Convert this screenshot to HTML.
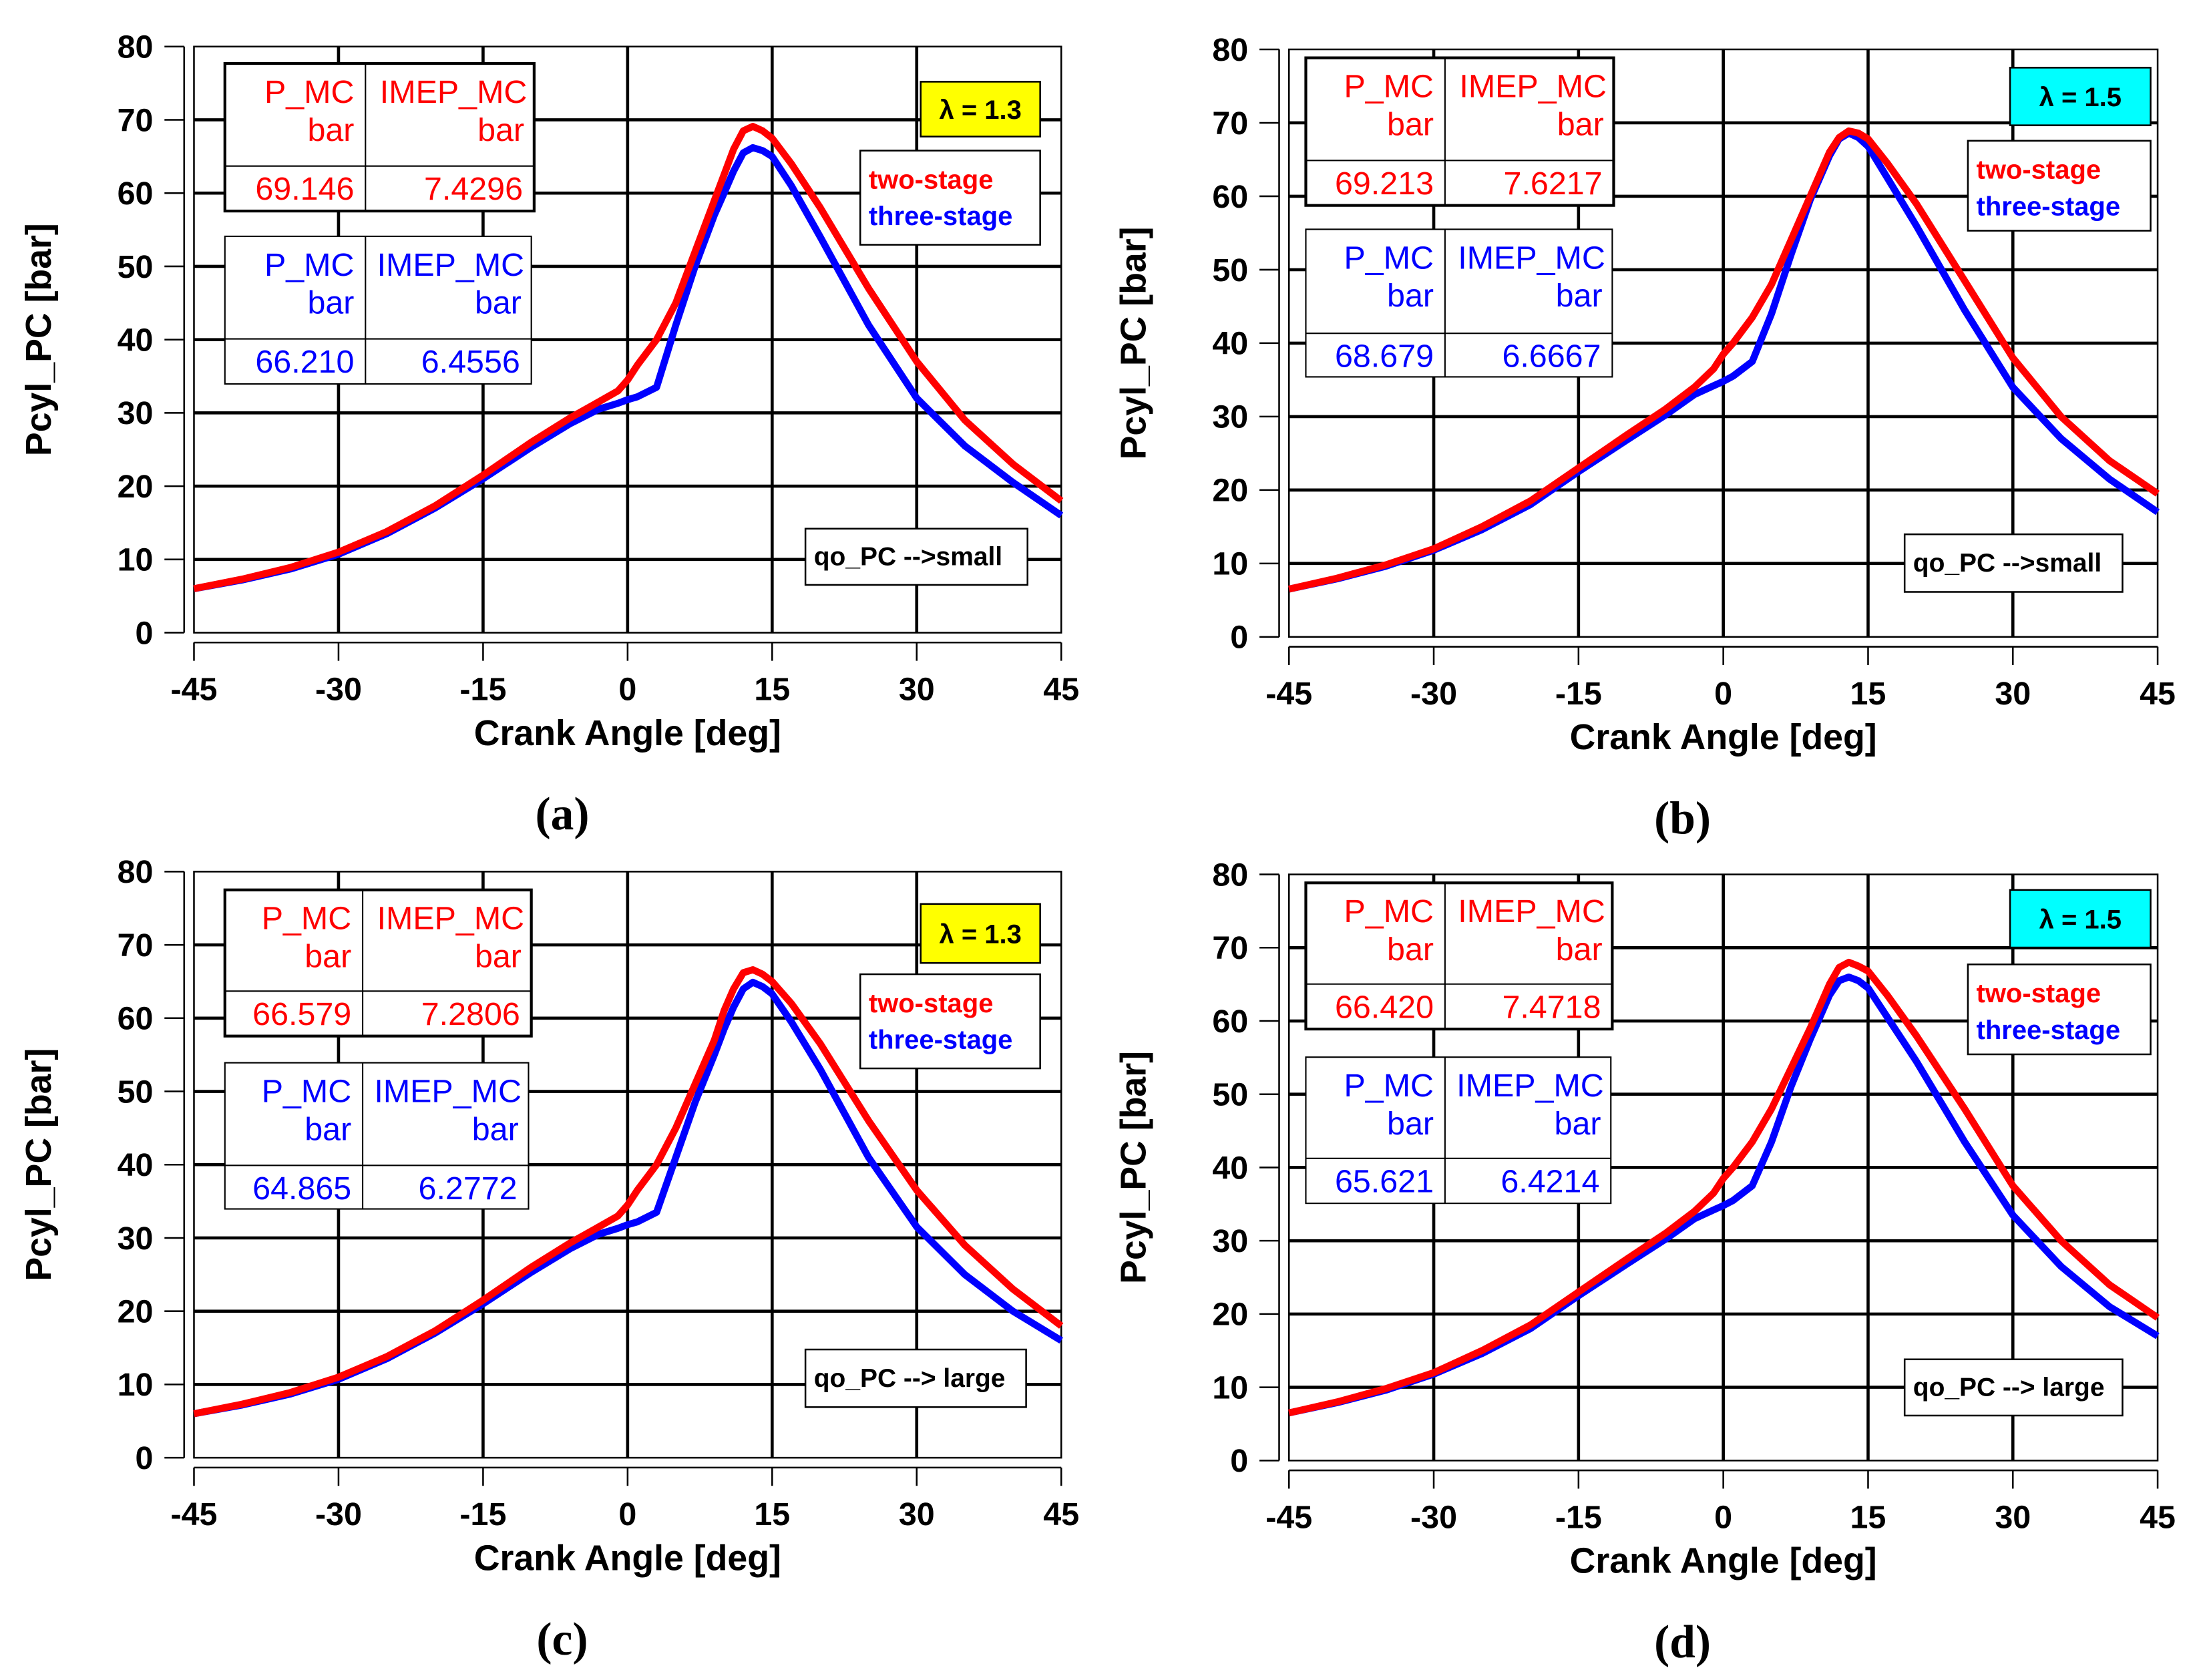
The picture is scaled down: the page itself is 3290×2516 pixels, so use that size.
<!DOCTYPE html>
<html><head><meta charset="utf-8"><style>
html,body{margin:0;padding:0;background:#fff;}
svg{display:block;font-family:"Liberation Sans",sans-serif;}
</style></head><body>
<svg id="fig" width="3290" height="2516" viewBox="0 0 1563 1195" xmlns="http://www.w3.org/2000/svg"></svg>
<script>
// ---- data ----
const anglesA = [-45,-40,-35,-30,-25,-20,-15,-10,-6,-3,-1,0,1,3,5,7,9,10,11,12,13,14,15,17,20,25,30,35,40,45];
const twoA   = [6,7.3,8.9,11,13.8,17.3,21.5,26,29.3,31.5,33,34.5,36.5,40,45,52,59,62.5,66,68.5,69.1,68.5,67.5,64,58,47,37,29,23,18];
const threeA = [6,7.2,8.7,10.7,13.5,17,21,25.3,28.5,30.5,31.3,31.8,32.2,33.5,42,50,57,60,63,65.5,66.2,65.8,65,61,54,42,32,25.5,20.5,16];
const twoB   = [6.5,8,9.8,12,15,18.5,23,27.5,31,34,36.5,38.5,40,43.5,48,54,60,63,66,68,68.9,68.6,67.8,64.5,59,48.5,38,30,24,19.5];
const threeB = [6.5,7.9,9.6,11.8,14.6,18,22.5,26.8,30.2,33,34.2,34.8,35.5,37.5,44,52,59.5,62.5,65.5,67.8,68.6,68,66.8,62.5,56,44.5,34,27,21.5,17];
const twoC   = [6,7.3,8.9,11,13.8,17.3,21.5,26,29.3,31.5,33,34.5,36.5,40,45,51,57,61,64,66.2,66.6,66,65,62,56.5,46,36.5,29,23,18];
const threeC = [6,7.2,8.7,10.7,13.5,17,21,25.3,28.5,30.5,31.3,31.8,32.2,33.5,41,48.5,55,58.5,61.5,64,64.9,64.3,63.3,59.5,53,41,31.5,25,20,16];
const twoD   = [6.5,8,9.8,12,15,18.5,23,27.5,31,34,36.5,38.5,40,43.5,48,53.5,59,62,65,67.3,68,67.5,66.8,63.5,58,48,37.5,30,24,19.5];
const threeD = [6.5,7.9,9.6,11.8,14.6,18,22.5,26.8,30.2,33,34.2,34.8,35.5,37.5,43.5,51,57.5,60.5,63.5,65.5,66,65.5,64.5,60.5,54.5,43.5,33.5,26.5,21,17];
const xTicks = [-45,-30,-15,0,15,30,45];
const yTicks = [0,10,20,30,40,50,60,70,80];
const tableVals = [["69.146","7.4296","66.210","6.4556"],["69.213","7.6217","68.679","6.6667"],["66.579","7.2806","64.865","6.2772"],["66.420","7.4718","65.621","6.4214"]];
const lambdas = ["1.3","1.5","1.3","1.5"];
const qoLabels = ["qo_PC -->small","qo_PC -->small","qo_PC --> large","qo_PC --> large"];
const captions = ["(a)","(b)","(c)","(d)"];
const series = [[twoA,threeA],[twoB,threeB],[twoC,threeC],[twoD,threeD]];

const NS="http://www.w3.org/2000/svg";
const svg=document.getElementById('fig');
function el(tag,attrs,parent,text){const e=document.createElementNS(NS,tag);for(const k in attrs)e.setAttribute(k,attrs[k]);if(text!==undefined)e.textContent=text;(parent||svg).appendChild(e);return e;}

const panels=[
 {x0:138,x1:755,y0:450,y80:33,cap:400, red:[160,45,380,150,118,260], blue:[160,168,378,273,241], lam:[655,58,740,97,'#ffff00'], leg:[612,107,740,174], qo:[573,376,731,416]},
 {x0:917,x1:1535,y0:453,y80:35,cap:1197, red:[929,41,1148,146,114,1028], blue:[929,163,1147,268,237], lam:[1430,48,1530,89,'#00ffff'], leg:[1400,100,1530,164], qo:[1355,380,1510,421]},
 {x0:138,x1:755,y0:1037,y80:620,cap:400, red:[160,633,378,737,705,258], blue:[160,756,376,860,829], lam:[655,643,740,685,'#ffff00'], leg:[612,693,740,760], qo:[573,960,730,1001]},
 {x0:917,x1:1535,y0:1039,y80:622,cap:1197, red:[929,628,1147,732,700,1028], blue:[929,752,1146,856,824], lam:[1430,633,1530,674,'#00ffff'], leg:[1400,686,1530,750], qo:[1355,967,1510,1007]}
];

panels.forEach((p,i)=>{
  const g=el('g',{});
  
  
  const sx=v=>p.x0+(v+45)/90*(p.x1-p.x0);
  const sy=v=>p.y0-v/80*(p.y0-p.y80);
  yTicks.forEach(t=>{ if(t>0&&t<80){const l=el('line',{x1:p.x0,x2:p.x1,y1:sy(t),y2:sy(t),stroke:'#000','stroke-width':2.2},g);}});
  xTicks.forEach(t=>{ if(t>-45&&t<45){const l=el('line',{x1:sx(t),x2:sx(t),y1:p.y80,y2:p.y0,stroke:'#000','stroke-width':2.2},g);}});
  const fr=el('rect',{x:p.x0,y:p.y80,width:p.x1-p.x0,height:p.y0-p.y80,fill:'none',stroke:'#000','stroke-width':1.2},g);
  
  const ya=el('line',{x1:p.x0-7,x2:p.x0-7,y1:p.y80,y2:p.y0,stroke:'#000','stroke-width':1.2},g);
  
  yTicks.forEach(t=>{
    el('line',{x1:p.x0-21,x2:p.x0-7,y1:sy(t),y2:sy(t),stroke:'#000','stroke-width':1.2},g);
    const tx=el('text',{x:p.x0-29,y:sy(t)+8,'text-anchor':'end','font-size':23,'font-weight':'bold'},g,String(t));
    
  });
  const xa=el('line',{x1:p.x0,x2:p.x1,y1:p.y0+7,y2:p.y0+7,stroke:'#000','stroke-width':1.2},g);
  
  xTicks.forEach(t=>{
    el('line',{x1:sx(t),x2:sx(t),y1:p.y0+7,y2:p.y0+20,stroke:'#000','stroke-width':1.2},g);
    const tx=el('text',{x:sx(t),y:p.y0+48,'text-anchor':'middle','font-size':23,'font-weight':'bold'},g,String(t));
    
  });
  const xt=el('text',{x:(p.x0+p.x1)/2,y:p.y0+80,'text-anchor':'middle','font-size':25.5,'font-weight':'bold'},g,'Crank Angle [deg]');
  
  const ytx=p.x0-102, yty=(p.y0+p.y80)/2;
  const yt=el('text',{x:ytx,y:yty,'text-anchor':'middle','font-size':25.5,'font-weight':'bold',transform:`rotate(-90 ${ytx} ${yty})`},g,'Pcyl_PC [bar]');
  
  const cap=el('text',{x:p.cap,y:p.y0+140,'text-anchor':'middle','font-size':33,'font-weight':'bold','font-family':'Liberation Serif, serif'},g,captions[i]);
  
  const cols=['#ff0000','#0000ff'];
  [1,0].forEach(s=>{
    const pts=anglesA.map((a,k)=>sx(a).toFixed(1)+','+sy(series[i][s][k]).toFixed(1)).join(' ');
    const pl=el('polyline',{points:pts,fill:'none',stroke:cols[s],'stroke-width':5,'stroke-linejoin':'round'},g);
    
    
  });
  function table(b,color,vals,name,thick){
    const tg=el('g',{},g);
    const [x1,y1,x2,y2,sp]=b; const cx=p.red[5];
    el('rect',{x:x1,y:y1,width:x2-x1,height:y2-y1,fill:'#fff',stroke:'#000','stroke-width':thick},tg);
    el('line',{x1:x1,x2:x2,y1:sp,y2:sp,stroke:'#000','stroke-width':1},tg);
    el('line',{x1:cx,x2:cx,y1:y1,y2:y2,stroke:'#000','stroke-width':1},tg);
    const fs=23;
    el('text',{x:cx-8,y:y1+28,'text-anchor':'end','font-size':fs,fill:color},tg,'P_MC');
    el('text',{x:cx-8,y:y1+55,'text-anchor':'end','font-size':fs,fill:color},tg,'bar');
    el('text',{x:x2-5,y:y1+28,'text-anchor':'end','font-size':fs,fill:color},tg,'IMEP_MC');
    el('text',{x:x2-7,y:y1+55,'text-anchor':'end','font-size':fs,fill:color},tg,'bar');
    el('text',{x:cx-8,y:sp+24,'text-anchor':'end','font-size':fs,fill:color},tg,vals[0]);
    el('text',{x:x2-8,y:sp+24,'text-anchor':'end','font-size':fs,fill:color},tg,vals[1]);
  }
  table(p.red,'#ff0000',[tableVals[i][0],tableVals[i][1]],'two-stage-table',2);
  table(p.blue,'#0000ff',[tableVals[i][2],tableVals[i][3]],'three-stage-table',1);
  const lb=el('g',{},g);
  el('rect',{x:p.lam[0],y:p.lam[1],width:p.lam[2]-p.lam[0],height:p.lam[3]-p.lam[1],fill:p.lam[4],stroke:'#000','stroke-width':1.2},lb);
  el('text',{x:(p.lam[0]+p.lam[2])/2,y:(p.lam[1]+p.lam[3])/2+7,'text-anchor':'middle','font-size':19,'font-weight':'bold'},lb,'λ = '+lambdas[i]);
  const lg=el('g',{},g);
  el('rect',{x:p.leg[0],y:p.leg[1],width:p.leg[2]-p.leg[0],height:p.leg[3]-p.leg[1],fill:'#fff',stroke:'#000','stroke-width':1.2},lg);
  const l1=el('text',{x:p.leg[0]+6,y:p.leg[1]+27,'font-size':19,'font-weight':'bold',fill:'#ff0000'},lg,'two-stage');
  
  const l2=el('text',{x:p.leg[0]+6,y:p.leg[1]+53,'font-size':19,'font-weight':'bold',fill:'#0000ff'},lg,'three-stage');
  
  const qb=el('g',{},g);
  el('rect',{x:p.qo[0],y:p.qo[1],width:p.qo[2]-p.qo[0],height:p.qo[3]-p.qo[1],fill:'#fff',stroke:'#000','stroke-width':1.2},qb);
  el('text',{x:p.qo[0]+6,y:(p.qo[1]+p.qo[3])/2+6,'font-size':18.5,'font-weight':'bold'},qb,qoLabels[i]);
});
</script>
</body></html>
